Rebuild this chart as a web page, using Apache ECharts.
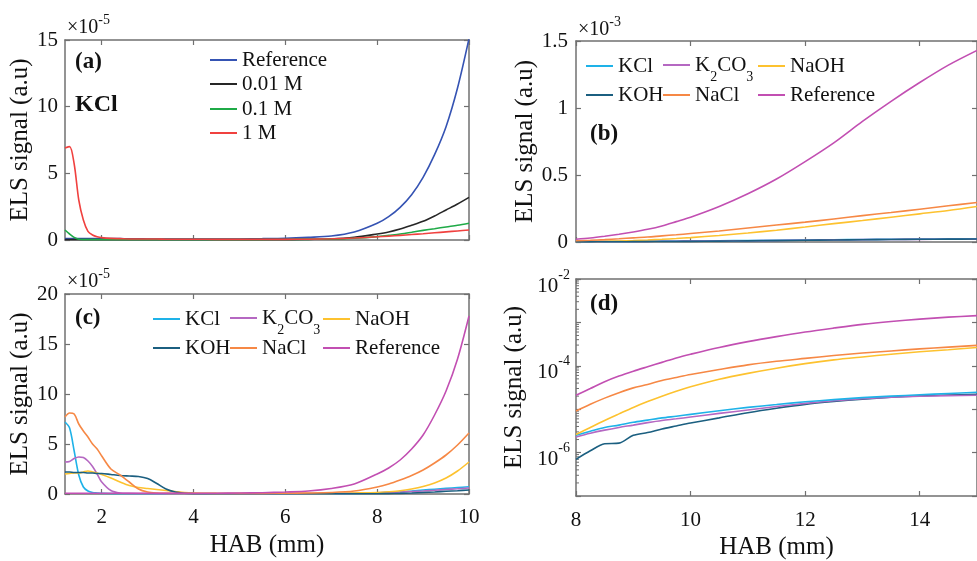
<!DOCTYPE html>
<html>
<head>
<meta charset="utf-8">
<script src="https://cdn.jsdelivr.net/npm/echarts@6/dist/echarts.min.js"></script>
<style>
  html, body { margin: 0; padding: 0; background: #fff; }
  #chart { width: 977px; height: 561px; }
</style>
</head>
<body>
<div id="chart"></div>
<script>
// ---- HAB positions (mm) for the near-burner panels (a) and (c) ----
const habNear = [1.2, 1.3, 1.4, 1.5, 1.6, 1.7, 1.8, 1.9, 2.0, 2.2, 2.4, 2.6, 2.8, 3.0, 3.2, 3.4, 3.6, 3.8, 4.0,
                 4.5, 5, 5.5, 6, 6.5, 7, 7.5, 8, 8.25, 8.5, 8.75, 9, 9.25, 9.5, 9.75, 10];

// Panel (a): KCl concentrations, ELS signal in units of 1e-5
const aReference = [0.1, 0.1, 0.1, 0.1, 0.1, 0.1, 0.1, 0.1, 0.1, 0.1, 0.1, 0.09, 0.09, 0.08, 0.08, 0.07, 0.07, 0.07, 0.07,
                    0.07, 0.08, 0.1, 0.13, 0.2, 0.3, 0.6, 1.25, 1.75, 2.45, 3.4, 4.7, 6.4, 8.5, 11.4, 15.1];
const aKcl001 =    [0.03, 0.03, 0.03, 0.03, 0.03, 0.03, 0.03, 0.03, 0.03, 0.03, 0.03, 0.03, 0.03, 0.03, 0.03, 0.03, 0.03, 0.03, 0.03,
                    0.03, 0.03, 0.03, 0.03, 0.05, 0.08, 0.2, 0.45, 0.6, 0.82, 1.1, 1.4, 1.8, 2.25, 2.7, 3.2];
const aKcl01 =     [0.75, 0.45, 0.2, 0.06, 0.03, 0.03, 0.03, 0.03, 0.03, 0.03, 0.03, 0.03, 0.03, 0.03, 0.03, 0.03, 0.03, 0.03, 0.03,
                    0.03, 0.03, 0.03, 0.04, 0.05, 0.07, 0.13, 0.25, 0.35, 0.45, 0.58, 0.72, 0.85, 0.98, 1.1, 1.25];
const aKcl1 =      [6.9, 7.0, 5.7, 3.0, 1.5, 0.65, 0.38, 0.25, 0.18, 0.12, 0.1, 0.08, 0.08, 0.07, 0.07, 0.06, 0.06, 0.06, 0.06,
                    0.05, 0.05, 0.05, 0.05, 0.06, 0.09, 0.15, 0.24, 0.29, 0.35, 0.41, 0.47, 0.54, 0.61, 0.68, 0.75];

// Panel (c): salts, ELS signal in units of 1e-5
const cKCl =       [7.2, 6.6, 4.3, 1.9, 0.7, 0.3, 0.15, 0.1, 0.06, 0.04, 0.03, 0.03, 0.02, 0.02, 0.02, 0.02, 0.02, 0.02, 0.02,
                    0.01, 0.01, 0.01, 0.01, 0.02, 0.03, 0.05, 0.1, 0.15, 0.2, 0.3, 0.4, 0.48, 0.56, 0.64, 0.72];
const cK2CO3 =     [3.2, 3.25, 3.55, 3.7, 3.65, 3.3, 2.75, 2.0, 1.2, 0.35, 0.1, 0.06, 0.05, 0.05, 0.04, 0.04, 0.04, 0.04, 0.04,
                    0.04, 0.04, 0.04, 0.04, 0.04, 0.05, 0.07, 0.12, 0.16, 0.2, 0.25, 0.3, 0.37, 0.45, 0.52, 0.6];
const cNaOH =      [2.0, 2.05, 2.1, 2.1, 2.2, 2.3, 2.2, 2.1, 1.95, 1.6, 1.2, 0.85, 0.65, 0.55, 0.45, 0.35, 0.25, 0.15, 0.1,
                    0.06, 0.05, 0.05, 0.05, 0.05, 0.06, 0.1, 0.15, 0.22, 0.32, 0.5, 0.75, 1.1, 1.6, 2.3, 3.2];
const cKOH =       [2.2, 2.2, 2.15, 2.15, 2.15, 2.1, 2.1, 2.05, 2.05, 1.95, 1.85, 1.8, 1.75, 1.55, 1.05, 0.5, 0.2, 0.08, 0.04,
                    0.02, 0.02, 0.02, 0.02, 0.02, 0.02, 0.02, 0.03, 0.04, 0.06, 0.1, 0.15, 0.2, 0.27, 0.33, 0.4];
const cNaCl =      [7.7, 8.1, 8.0, 7.0, 6.3, 5.7, 5.0, 4.5, 3.8, 2.5, 1.9, 1.2, 0.5, 0.2, 0.1, 0.07, 0.05, 0.05, 0.05,
                    0.05, 0.05, 0.06, 0.08, 0.1, 0.15, 0.3, 0.7, 1.0, 1.4, 1.85, 2.4, 3.1, 3.9, 4.9, 6.1];
const cReference = [0.08, 0.08, 0.08, 0.08, 0.08, 0.08, 0.08, 0.08, 0.08, 0.08, 0.08, 0.08, 0.08, 0.08, 0.08, 0.08, 0.08, 0.08, 0.08,
                    0.08, 0.1, 0.13, 0.2, 0.3, 0.55, 1.0, 2.0, 2.6, 3.4, 4.5, 5.9, 7.9, 10.3, 13.5, 17.8];

// ---- HAB positions (mm) for the downstream panels (b) and (d), absolute ELS signal ----
const habFar = [8, 8.25, 8.5, 8.75, 9, 9.25, 9.5, 9.75, 10, 10.5, 11, 11.5, 12, 12.5, 13, 13.5, 14, 14.5, 15];
const fKCl =       [2.5e-6, 3.1e-6, 3.8e-6, 4.3e-6, 5.0e-6, 5.6e-6, 6.3e-6, 6.9e-6, 7.6e-6, 9.2e-6, 1.1e-5, 1.28e-5, 1.48e-5, 1.66e-5, 1.85e-5, 2.0e-5, 2.15e-5, 2.3e-5, 2.45e-5];
const fK2CO3 =     [2.3e-6, 2.8e-6, 3.3e-6, 3.8e-6, 4.3e-6, 4.9e-6, 5.5e-6, 6.0e-6, 6.6e-6, 8.0e-6, 9.6e-6, 1.15e-5, 1.36e-5, 1.56e-5, 1.74e-5, 1.88e-5, 1.98e-5, 2.05e-5, 2.1e-5];
const fNaOH =      [2.6e-6, 3.8e-6, 5.5e-6, 7.8e-6, 1.1e-5, 1.5e-5, 2.0e-5, 2.6e-5, 3.3e-5, 4.9e-5, 6.7e-5, 8.8e-5, 1.12e-4, 1.37e-4, 1.6e-4, 1.85e-4, 2.1e-4, 2.35e-4, 2.65e-4];
const fKOH =       [7e-7, 1.1e-6, 1.6e-6, 1.65e-6, 2.5e-6, 2.9e-6, 3.5e-6, 4.1e-6, 4.8e-6, 6.3e-6, 8.3e-6, 1.05e-5, 1.29e-5, 1.5e-5, 1.7e-5, 1.88e-5, 2.02e-5, 2.12e-5, 2.2e-5];
const fNaCl =      [9.1e-6, 1.3e-5, 1.8e-5, 2.4e-5, 3.1e-5, 3.7e-5, 4.6e-5, 5.4e-5, 6.3e-5, 8.2e-5, 1.05e-4, 1.27e-4, 1.48e-4, 1.72e-4, 1.97e-4, 2.2e-4, 2.45e-4, 2.7e-4, 2.95e-4];
const fReference = [2.1e-5, 3.0e-5, 4.3e-5, 5.8e-5, 7.5e-5, 9.5e-5, 1.2e-4, 1.52e-4, 1.85e-4, 2.65e-4, 3.6e-4, 4.7e-4, 6.0e-4, 7.4e-4, 9.0e-4, 1.05e-3, 1.19e-3, 1.32e-3, 1.43e-3];

// Tick labels
const nearTicks = [2, 4, 6, 8, 10];
const farTicks = [8, 10, 12, 14];

// ---- styling ----
const FONT = '"Liberation Serif", "Times New Roman", serif';
const TEXT = '#111';
const AXIS = '#707070';
const COL = {
  KCl: '#1eb2e8', K2CO3: '#b568c2', NaOH: '#fdc22f', KOH: '#1b5f80', NaCl: '#f68845', Reference: '#c24fb2',
  aRef: '#3553b3', a001: '#262626', a01: '#1faa47', a1: '#f0413f'
};

const pairs = (xs, ys) => xs.map((x, i) => [x, ys[i]]);

function line(name, color, xs, ys, idx) {
  return {
    type: 'line', name, data: pairs(xs, ys), xAxisIndex: idx, yAxisIndex: idx,
    showSymbol: false, symbol: 'none', smooth: 0.3, clip: true,
    lineStyle: { color, width: 1.6 }, itemStyle: { color }, emphasis: { disabled: true }
  };
}

function xAx(gi, min, max, ticks, pos, labels, extra) {
  return Object.assign({
    type: 'value', gridIndex: gi, min, max, position: pos,
    axisLine: { show: true, onZero: false, lineStyle: { color: AXIS, width: 1.5 } },
    axisTick: { show: true, inside: true, length: 5, customValues: ticks, lineStyle: { color: AXIS, width: 1.2 } },
    axisLabel: { show: labels, customValues: ticks, margin: 13, color: TEXT, fontFamily: FONT, fontSize: 21 },
    splitLine: { show: false }
  }, extra || {});
}

function yAx(gi, opts, pos, labels, extra) {
  return Object.assign({
    type: 'value', gridIndex: gi, position: pos,
    axisLine: { show: true, onZero: false, lineStyle: { color: AXIS, width: 1.5 } },
    axisTick: { show: true, inside: true, length: 5, lineStyle: { color: AXIS, width: 1.2 } },
    axisLabel: { show: labels, margin: 7, color: TEXT, fontFamily: FONT, fontSize: 21 },
    splitLine: { show: false }
  }, opts, extra || {});
}

const yTitle = (gap) => ({
  name: 'ELS signal (a.u)', nameLocation: 'middle', nameGap: gap,
  nameTextStyle: { fontFamily: FONT, fontSize: 25, color: TEXT }
});
const xTitle = {
  name: 'HAB (mm)', nameLocation: 'middle', nameGap: 39,
  nameTextStyle: { fontFamily: FONT, fontSize: 25, color: TEXT }
};

// "10^n" labels: base sits a little below the tick, exponent above it
const supRich = {
  b: { fontFamily: FONT, fontSize: 21, color: TEXT, padding: [14, 0, 0, 0] },
  s: { fontFamily: FONT, fontSize: 14, color: TEXT, padding: [0, 0, 8, 0] }
};

// log-axis labels on every second decade
function logLabel(v) {
  const e = Math.round(Math.log10(v));
  return e % 2 === 0 ? '{b|10}{s|' + e + '}' : '';
}

// legend text; subscripts drop below the baseline via top padding
const SUB_PAD = 24;
const subRich = {
  n: { fontFamily: FONT, fontSize: 21, color: TEXT },
  sub: { fontFamily: FONT, fontSize: 14, color: TEXT, padding: [SUB_PAD, 0, 0, 0] }
};
const hasSub = (name) => name === 'K2CO3';
const legendText = (name) => hasSub(name) ? '{n|K}{sub|2}{n|CO}{sub|3}' : '{n|' + name + '}';

// place an entry by the vertical centre of its line sample
function legend(name, color, left, centerY) {
  const boxHalf = hasSub(name) ? 11.5 : 10.5;
  return {
    data: [{ name, itemStyle: { color } }], left, top: centerY - boxHalf + 1, padding: 0,
    icon: 'rect', itemWidth: 27, itemHeight: 2, selectedMode: false,
    formatter: legendText,
    textStyle: { fontFamily: FONT, fontSize: 21, color: TEXT, rich: subRich }
  };
}

// "×10^n" axis multiplier
function multiplier(x, centerY, exp) {
  return {
    type: 'text', x, y: centerY,
    style: {
      text: '{m|×10}{e|' + exp + '}', verticalAlign: 'middle',
      rich: {
        m: { fontFamily: FONT, fontSize: 20, fill: TEXT },
        e: { fontFamily: FONT, fontSize: 14, fill: TEXT, padding: [0, 0, 15, 0] }
      }
    }
  };
}

function panelLabel(text, x, y, size) {
  return { type: 'text', x, y, style: { text, font: 'bold ' + size + 'px ' + FONT, fill: '#111', verticalAlign: 'middle' } };
}

// minor ticks at 2..9 x 10^n for the log panel
const minorLog = [];
for (let e = -7; e <= -3; e++) {
  for (let m = 2; m <= 9; m++) minorLog.push([8, m * Math.pow(10, e)]);
}

const chart = echarts.init(document.getElementById('chart'), null, { renderer: 'canvas' });

const option = {
  animation: false,
  backgroundColor: '#fff',
  grid: [
    { left: 65, top: 40, width: 404, height: 200 },
    { left: 576, top: 41, width: 408, height: 201 },
    { left: 65, top: 294, width: 404, height: 200 },
    { left: 576, top: 279, width: 408, height: 220 }
  ],
  xAxis: [
    xAx(0, 1.2, 10, nearTicks, 'bottom', false),
    xAx(1, 8, 15, farTicks, 'bottom', false),
    xAx(2, 1.2, 10, nearTicks, 'bottom', true, xTitle),
    xAx(3, 8, 15, farTicks, 'bottom', true, Object.assign({}, xTitle, { axisLabel: { show: true, customValues: farTicks, margin: 14, color: TEXT, fontFamily: FONT, fontSize: 21 } })),
    xAx(0, 1.2, 10, nearTicks, 'top', false),
    xAx(1, 8, 15, farTicks, 'top', false),
    xAx(2, 1.2, 10, nearTicks, 'top', false),
    xAx(3, 8, 15, farTicks, 'top', false)
  ],
  yAxis: [
    yAx(0, { min: 0, max: 15, interval: 5 }, 'left', true, yTitle(29.5)),
    yAx(1, { min: 0, max: 1.5e-3, interval: 5e-4 }, 'left', true, Object.assign(yTitle(36.5), {
      axisLabel: { show: true, margin: 8, color: TEXT, fontFamily: FONT, fontSize: 21,
                   formatter: (v) => String(+(v * 1e3).toFixed(2)) }
    })),
    yAx(2, { min: 0, max: 20, interval: 5 }, 'left', true, yTitle(29.5)),
    yAx(3, { type: 'log', logBase: 10, min: 1e-7, max: 1e-2 }, 'left', true, Object.assign(yTitle(49), {
      axisLabel: { show: true, margin: 6, formatter: logLabel, rich: supRich, color: TEXT, fontFamily: FONT, fontSize: 21 }
    })),
    yAx(0, { min: 0, max: 15, interval: 5 }, 'right', false),
    yAx(1, { min: 0, max: 1.5e-3, interval: 5e-4 }, 'right', false),
    yAx(2, { min: 0, max: 20, interval: 5 }, 'right', false),
    yAx(3, { type: 'log', logBase: 10, min: 1e-7, max: 1e-2 }, 'right', false)
  ],
  legend: [
    legend('Reference', COL.aRef, 210, 59),
    legend('0.01 M', COL.a001, 210, 83),
    legend('0.1 M', COL.a01, 210, 108),
    legend('1 M', COL.a1, 210, 132),

    legend('KCl', COL.KCl, 586, 65),
    legend('K2CO3', COL.K2CO3, 663, 65),
    legend('NaOH', COL.NaOH, 758, 65),
    legend('KOH', COL.KOH, 586, 94),
    legend('NaCl', COL.NaCl, 663, 94),
    legend('Reference', COL.Reference, 758, 94),

    legend('KCl', COL.KCl, 153, 318),
    legend('K2CO3', COL.K2CO3, 230, 318),
    legend('NaOH', COL.NaOH, 323, 318),
    legend('KOH', COL.KOH, 153, 347),
    legend('NaCl', COL.NaCl, 230, 347),
    legend('Reference', COL.Reference, 323, 347)
  ],
  graphic: [
    multiplier(67, 27.5, '-5'),
    multiplier(578, 30, '-3'),
    multiplier(67, 281.5, '-5'),
    panelLabel('(a)', 75, 62, 23),
    panelLabel('KCl', 75, 105, 24),
    panelLabel('(b)', 590, 134, 23),
    panelLabel('(c)', 75, 318, 23),
    panelLabel('(d)', 590, 304, 23)
  ],
  series: [
    line('Reference', COL.aRef, habNear, aReference, 0),
    line('0.01 M', COL.a001, habNear, aKcl001, 0),
    line('0.1 M', COL.a01, habNear, aKcl01, 0),
    line('1 M', COL.a1, habNear, aKcl1, 0),

    line('KCl', COL.KCl, habFar, fKCl, 1),
    line('K2CO3', COL.K2CO3, habFar, fK2CO3, 1),
    line('NaOH', COL.NaOH, habFar, fNaOH, 1),
    line('KOH', COL.KOH, habFar, fKOH, 1),
    line('NaCl', COL.NaCl, habFar, fNaCl, 1),
    line('Reference', COL.Reference, habFar, fReference, 1),

    line('KCl', COL.KCl, habNear, cKCl, 2),
    line('K2CO3', COL.K2CO3, habNear, cK2CO3, 2),
    line('NaOH', COL.NaOH, habNear, cNaOH, 2),
    line('KOH', COL.KOH, habNear, cKOH, 2),
    line('NaCl', COL.NaCl, habNear, cNaCl, 2),
    line('Reference', COL.Reference, habNear, cReference, 2),

    line('KOH', COL.KOH, habFar, fKOH, 3),
    line('K2CO3', COL.K2CO3, habFar, fK2CO3, 3),
    line('KCl', COL.KCl, habFar, fKCl, 3),
    line('NaOH', COL.NaOH, habFar, fNaOH, 3),
    line('NaCl', COL.NaCl, habFar, fNaCl, 3),
    line('Reference', COL.Reference, habFar, fReference, 3),

    {
      type: 'custom', name: 'minor-ticks', xAxisIndex: 3, yAxisIndex: 3, silent: true, clip: false,
      data: minorLog,
      renderItem: (params, api) => {
        const p = api.coord([api.value(0), api.value(1)]);
        return { type: 'line', shape: { x1: p[0], y1: p[1], x2: p[0] + 3, y2: p[1] },
                 style: { stroke: AXIS, lineWidth: 1 } };
      }
    }
  ]
};

chart.setOption(option);
</script>
</body>
</html>
